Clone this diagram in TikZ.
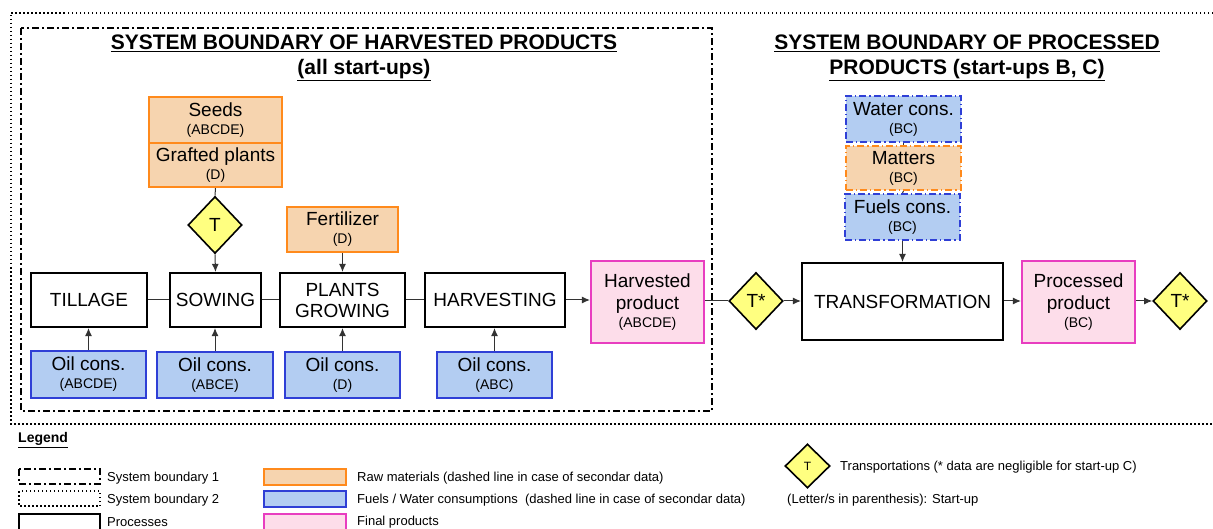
\documentclass[tikz,border=0pt]{standalone}
\usepackage{fontspec}
\setmainfont{Liberation Sans}
\usetikzlibrary{shapes.geometric,arrows.meta}
\definecolor{orB}{HTML}{FF8A1C}
\definecolor{orF}{HTML}{F6D4AF}
\definecolor{blB}{HTML}{2F3FD6}
\definecolor{blF}{HTML}{B3CDF2}
\definecolor{pkB}{HTML}{E83EC0}
\definecolor{pkF}{HTML}{FDDDEA}
\definecolor{ylF}{HTML}{FFFF80}
\definecolor{cn}{HTML}{333333}
\newcommand\smalltxt[1]{{\fontsize{14}{16}\selectfont #1}}
\tikzset{
  bigfont/.style={font=\fontsize{19}{22}\selectfont},
  box/.style={draw, align=center, inner sep=0pt, bigfont},
  proc/.style={box, line width=2.2pt, fill=white},
  raw/.style={box, line width=2.2pt, draw=orB, fill=orF},
  fuel/.style={box, line width=2.2pt, draw=blB, fill=blF},
  final/.style={box, line width=2.2pt, draw=pkB, fill=pkF},
  secdash/.style={dash pattern=on 7pt off 3pt on 1.2pt off 3pt},
  transp/.style={diamond, draw, line width=1.6pt, fill=ylF, inner sep=0pt, minimum width=54pt, minimum height=57pt, bigfont},
  conn/.style={draw=cn, line width=1pt},
  arr/.style={conn, -{Latex[length=8pt,width=7pt]}},
  sbone/.style={line width=2pt, dash pattern=on 7pt off 3pt on 2pt off 3pt},
  sbtwo/.style={line width=2pt, dash pattern=on 1.5pt off 2.5pt},
  legtxt/.style={anchor=west, inner sep=0pt, font=\fontsize{13}{15}\selectfont},
  title/.style={align=center, inner sep=0pt, font=\fontsize{21}{25}\bfseries\selectfont}
}
\begin{document}
\begin{tikzpicture}[x=1pt,y=-1pt]
\useasboundingbox (0,0) rectangle (1213,529);
\clip (0,0) rectangle (1213,529);

% boundaries
\draw[sbtwo] (1225,13) -- (11,13) -- (11,424) -- (1225,424);
\draw[sbone] (21,28) rectangle (712,411);

% titles
\node[title] (t1title) at (364,58) {\underline{SYSTEM BOUNDARY OF HARVESTED PRODUCTS}\\\underline{(all start-ups)}};
\node[title] (t2title) at (967,58) {\underline{SYSTEM BOUNDARY OF PROCESSED}\\\underline{PRODUCTS (start-ups B, C)}};

% raw materials
\node[raw, minimum width=133pt, minimum height=46pt] (seeds) at (215.5,120) {Seeds\\[-4pt]\smalltxt{(ABCDE)}};
\node[raw, minimum width=133pt, minimum height=44pt] (grafted) at (215.5,165) {Grafted plants\\[-4pt]\smalltxt{(D)}};
\node[raw, minimum width=111pt, minimum height=45pt] (fert) at (342.5,229.5) {Fertilizer\\[-4pt]\smalltxt{(D)}};

% transports
\node[transp] (tA) at (215,225) {T};
\node[transp] (tB) at (756,301) {T*};
\node[transp] (tC) at (1180,301) {T*};

% processes
\node[proc, minimum width=116pt, minimum height=54pt] (tillage) at (89,300) {TILLAGE};
\node[proc, minimum width=91pt, minimum height=54pt] (sowing) at (215.5,300) {SOWING};
\node[proc, minimum width=125pt, minimum height=54pt] (plants) at (342.5,300) {PLANTS\\[-1pt]GROWING};
\node[proc, minimum width=140pt, minimum height=54pt] (harvesting) at (495,300) {HARVESTING};
\node[proc, minimum width=201pt, minimum height=77pt] (transf) at (902.5,301.5) {TRANSFORMATION};

% final products
\node[final, minimum width=113pt, minimum height=82pt] (harvested) at (647.5,302) {Harvested\\product\\[-4pt]\smalltxt{(ABCDE)}};
\node[final, minimum width=113pt, minimum height=82pt] (processed) at (1078.5,302) {Processed\\product\\[-4pt]\smalltxt{(BC)}};

% oil consumptions
\node[fuel, minimum width=115pt, minimum height=47pt] (oilA) at (88.5,374.5) {Oil cons.\\[-4pt]\smalltxt{(ABCDE)}};
\node[fuel, minimum width=116pt, minimum height=46pt] (oilB) at (215,375) {Oil cons.\\[-4pt]\smalltxt{(ABCE)}};
\node[fuel, minimum width=115pt, minimum height=46pt] (oilC) at (342.5,375) {Oil cons.\\[-4pt]\smalltxt{(D)}};
\node[fuel, minimum width=115pt, minimum height=46pt] (oilD) at (494.5,375) {Oil cons.\\[-4pt]\smalltxt{(ABC)}};

% processed inputs (secondary data)
\node[fuel, secdash, minimum width=115pt, minimum height=46pt] (water) at (903.5,119) {Water cons.\\[-4pt]\smalltxt{(BC)}};
\node[raw, secdash, minimum width=115pt, minimum height=44pt] (matters) at (903.5,168) {Matters\\[-4pt]\smalltxt{(BC)}};
\node[fuel, secdash, minimum width=115pt, minimum height=46pt] (fuels) at (902.5,217) {Fuels cons.\\[-4pt]\smalltxt{(BC)}};

% connectors
\draw[conn] (grafted.south) -- (tA.north);
\draw[arr] (tA.south) -- (sowing.north);
\draw[arr] (fert.south) -- (plants.north);
\draw[conn] (tillage.east) -- (sowing.west);
\draw[conn] (sowing.east) -- (plants.west);
\draw[conn] (plants.east) -- (harvesting.west);
\draw[arr] (harvesting.east) -- (harvesting.east -| harvested.west);
\draw[conn] (harvested.east |- tB.west) -- (tB.west);
\draw[arr] (tB.east) -- (tB.east -| transf.west);
\draw[arr] (transf.east |- tC.west) -- (tC.west -| processed.west);
\draw[arr] (processed.east |- tC.west) -- (tC.west);
\draw[arr] (oilA.north) -- (oilA.north |- tillage.south);
\draw[arr] (oilB.north) -- (oilB.north |- sowing.south);
\draw[arr] (oilC.north) -- (oilC.north |- plants.south);
\draw[arr] (oilD.north) -- (oilD.north |- harvesting.south);
\draw[conn] (water.south) -- (matters.north);
\draw[conn] (matters.south) -- (fuels.north);
\draw[arr] (fuels.south) -- (fuels.south |- transf.north);

% legend
\node[anchor=west, inner sep=0pt, font=\fontsize{14}{16}\bfseries\selectfont] (legend) at (18,440) {\underline{Legend}};
\draw[sbone] (19,469) rectangle (100,484);
\node[legtxt] (l1) at (107,478) {System boundary 1};
\draw[sbtwo] (19,491) rectangle (100,506);
\node[legtxt] (l2) at (107,500.5) {System boundary 2};
\draw[line width=2.2pt] (19,514) rectangle (100,535);
\node[legtxt] (l3) at (107,522) {Processes};
\draw[line width=2.2pt, draw=orB, fill=orF] (264,469) rectangle (346,485);
\node[legtxt] (l4) at (357,478) {Raw materials (dashed line in case of secondar data)};
\draw[line width=2.2pt, draw=blB, fill=blF] (264,491) rectangle (346,507);
\node[legtxt] (l5) at (357,500.5) {Fuels / Water consumptions\ \ (dashed line in case of secondar data)};
\draw[line width=2.2pt, draw=pkB, fill=pkF] (264,514) rectangle (346,535);
\node[legtxt] (l6) at (357,522) {Final products};
\node[diamond, draw, line width=1.6pt, fill=ylF, inner sep=0pt, minimum width=45pt, minimum height=44pt, font=\fontsize{12}{14}\selectfont] (tleg) at (807.5,466) {T};
\node[legtxt] (l7) at (840,467) {Transportations (* data are negligible for start-up C)};
\node[legtxt] (l8) at (787,500) {(Letter/s in parenthesis): Start-up};
\end{tikzpicture}
\end{document}
